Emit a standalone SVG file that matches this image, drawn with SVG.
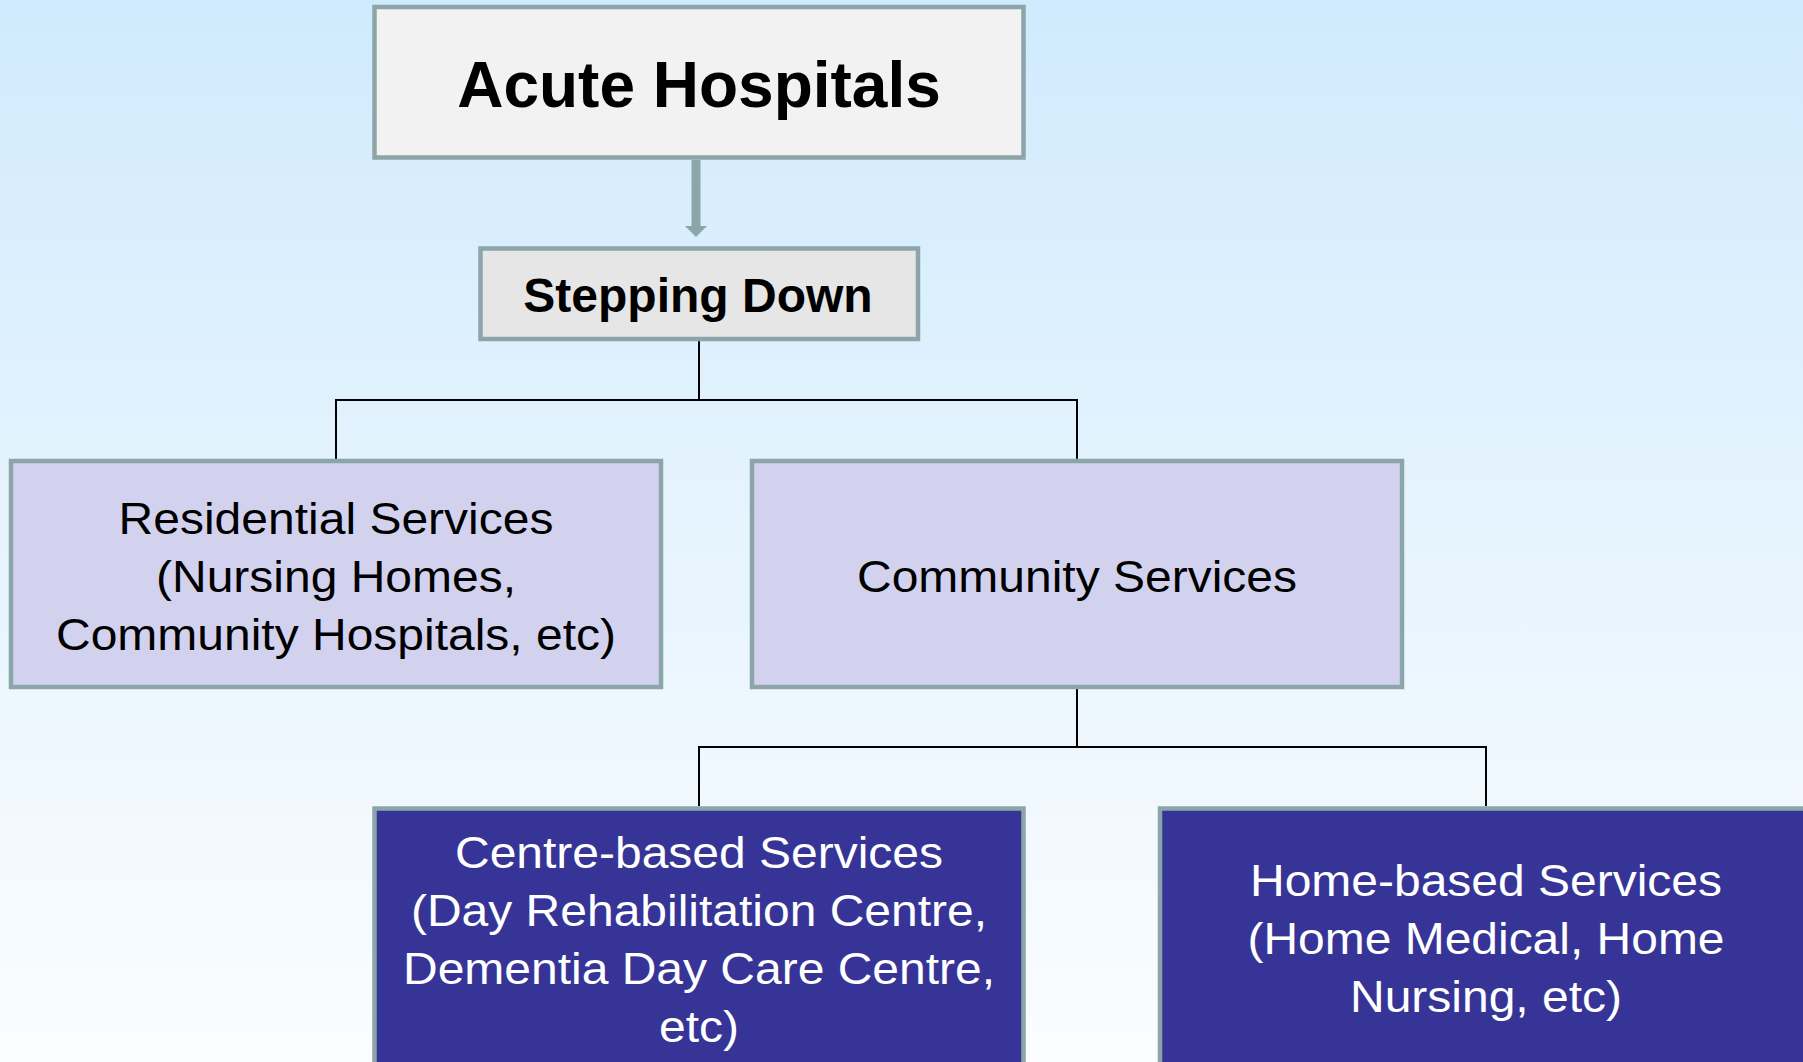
<svg xmlns="http://www.w3.org/2000/svg" width="1803" height="1062" viewBox="0 0 1803 1062">
  <defs>
    <linearGradient id="bg" x1="0" y1="0" x2="0" y2="1">
      <stop offset="0" stop-color="#d0eafd"/>
      <stop offset="0.5" stop-color="#e6f4fe"/>
      <stop offset="1" stop-color="#fbfdff"/>
    </linearGradient>
    <marker id="arrowhead" viewBox="0 0 22 11" refX="0" refY="0" markerWidth="22" markerHeight="11" markerUnits="userSpaceOnUse" orient="auto-start-reverse">
      <path d="M0,0 L22,0 L11,11 Z" fill="#8ba5a8"/>
    </marker>
    <style>
      .box { stroke: #8ba5a8; stroke-width: 4.5; }
      .light { fill: #f2f2f2; }
      .grey { fill: #e6e6e6; }
      .lav { fill: #d2d2ef; }
      .dark { fill: #363597; }
      .t { font-family: "Liberation Sans", Arial, sans-serif; font-size: 44px; text-anchor: middle; }
      .tb { font-family: "Liberation Sans", Arial, sans-serif; font-weight: bold; text-anchor: middle; fill: #000; }
      .blk { fill: #000; }
      .wht { fill: #fff; }
      .conn { stroke: #000; stroke-width: 2; fill: none; }
    </style>
  </defs>
  <rect x="0" y="0" width="1803" height="1062" fill="url(#bg)"/>

  <g id="connectors">
    <line x1="696" y1="160" x2="696" y2="227" stroke="#8ba5a8" stroke-width="9"/>
    <path d="M685,226 L707,226 L696,237 Z" fill="#8ba5a8"/>
    <polyline class="conn" points="699,341 699,400"/>
    <polyline class="conn" points="336,459 336,400 1077,400 1077,459"/>
    <polyline class="conn" points="1077,689 1077,747"/>
    <polyline class="conn" points="699,806 699,747 1486,747 1486,806"/>
  </g>

  <g id="acute-hospitals">
    <rect class="box light" x="374.5" y="7" width="649" height="150.5"/>
    <text class="tb" x="699" y="107" font-size="64">Acute Hospitals</text>
  </g>

  <g id="stepping-down">
    <rect class="box grey" x="480.5" y="248.5" width="437.5" height="90.5"/>
    <text class="tb" x="698" y="312" font-size="48">Stepping Down</text>
  </g>

  <g id="residential-services">
    <rect class="box lav" x="11" y="461" width="650" height="226"/>
    <text class="t blk" x="336" y="534" textLength="435" lengthAdjust="spacingAndGlyphs">Residential Services</text>
    <text class="t blk" x="336" y="592" textLength="360" lengthAdjust="spacingAndGlyphs">(Nursing Homes,</text>
    <text class="t blk" x="336" y="650" textLength="560" lengthAdjust="spacingAndGlyphs">Community Hospitals, etc)</text>
  </g>

  <g id="community-services">
    <rect class="box lav" x="752" y="461" width="650" height="226"/>
    <text class="t blk" x="1077" y="592" textLength="440" lengthAdjust="spacingAndGlyphs">Community Services</text>
  </g>

  <g id="centre-based-services">
    <rect class="box dark" x="374.5" y="808.5" width="649" height="300"/>
    <text class="t wht" x="699" y="868" textLength="488" lengthAdjust="spacingAndGlyphs">Centre-based Services</text>
    <text class="t wht" x="699" y="926" textLength="576" lengthAdjust="spacingAndGlyphs">(Day Rehabilitation Centre,</text>
    <text class="t wht" x="699" y="984" textLength="592" lengthAdjust="spacingAndGlyphs">Dementia Day Care Centre,</text>
    <text class="t wht" x="699" y="1042" textLength="80" lengthAdjust="spacingAndGlyphs">etc)</text>
  </g>

  <g id="home-based-services">
    <rect class="box dark" x="1160" y="808.5" width="651" height="300"/>
    <text class="t wht" x="1486" y="896" textLength="472" lengthAdjust="spacingAndGlyphs">Home-based Services</text>
    <text class="t wht" x="1486" y="954" textLength="477" lengthAdjust="spacingAndGlyphs">(Home Medical, Home</text>
    <text class="t wht" x="1486" y="1012" textLength="272" lengthAdjust="spacingAndGlyphs">Nursing, etc)</text>
  </g>
</svg>
